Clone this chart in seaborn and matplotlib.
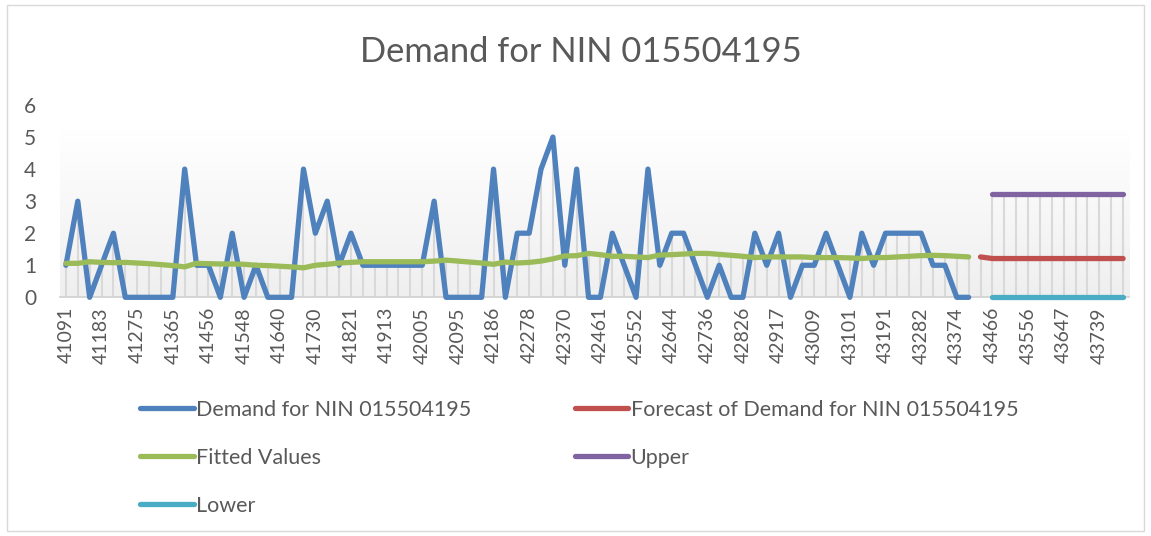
import numpy as np
import pandas as pd
import matplotlib
matplotlib.use("Agg")
import matplotlib.pyplot as plt
import seaborn as sns

# monthly categories, shown as Excel serial dates (Jul 2012 .. Dec 2019)
months = pd.date_range("2012-07-01", "2019-12-01", freq="MS")
serials = [str((m - pd.Timestamp("1899-12-30")).days) for m in months]

demand = [1, 3, 0, 1, 2, 0, 0, 0, 0, 0, 4, 1, 1, 0, 2, 0,
          1, 0, 0, 0, 4, 2, 3, 1, 2, 1, 1, 1, 1, 1, 1, 3,
          0, 0, 0, 0, 4, 0, 2, 2, 4, 5, 1, 4, 0, 0, 2, 1,
          0, 4, 1, 2, 2, 1, 0, 1, 0, 0, 2, 1, 2, 0, 1, 1,
          2, 1, 0, 2, 1, 2, 2, 2, 2, 1, 1, 0, 0]
fitted = [1.06, 1.06, 1.11, 1.09, 1.08, 1.09, 1.07, 1.05, 1.02, 0.99, 0.95, 1.06,
          1.05, 1.04, 1.04, 1.03, 1.00, 0.99, 0.97, 0.95, 0.92, 1.00, 1.03, 1.07,
          1.09, 1.11, 1.11, 1.11, 1.11, 1.11, 1.11, 1.13, 1.16, 1.13, 1.10, 1.07,
          1.03, 1.10, 1.07, 1.09, 1.13, 1.20, 1.29, 1.30, 1.37, 1.33, 1.28, 1.28,
          1.26, 1.24, 1.32, 1.33, 1.35, 1.37, 1.37, 1.34, 1.31, 1.28, 1.24, 1.26,
          1.26, 1.26, 1.26, 1.24, 1.24, 1.24, 1.23, 1.21, 1.24, 1.24, 1.26, 1.28,
          1.30, 1.31, 1.30, 1.28, 1.26]
forecast = [1.26] + [1.21] * 12
upper = [3.23] * 12
lower = [0.0] * 12

names = ["Demand for NIN 015504195", "Forecast of Demand for NIN 015504195",
         "Fitted Values", "Upper", "Lower"]
colors = ["#4F81BD", "#C0504D", "#9BBB59", "#8064A2", "#4BACC6"]

n_demand = len(demand)
frames = [
    pd.DataFrame({"x": range(0, n_demand), "value": demand, "series": names[0]}),
    pd.DataFrame({"x": range(n_demand, n_demand + len(forecast)), "value": forecast, "series": names[1]}),
    pd.DataFrame({"x": range(0, len(fitted)), "value": fitted, "series": names[2]}),
    pd.DataFrame({"x": range(n_demand + 1, n_demand + 1 + len(upper)), "value": upper, "series": names[3]}),
    pd.DataFrame({"x": range(n_demand + 1, n_demand + 1 + len(lower)), "value": lower, "series": names[4]}),
]
df = pd.concat(frames, ignore_index=True)

sns.set_style("white")
plt.rcParams["font.family"] = ["Lato", "DejaVu Sans"]
txt = "#595959"

fig = plt.figure(figsize=(11.51, 5.36), dpi=100)
ax = fig.add_axes([0.0521, 0.4453, 0.9288, 0.3588])

# plot area gradient fill
grad = np.linspace(0, 1, 256).reshape(-1, 1)
ax.imshow(grad, cmap=matplotlib.colors.LinearSegmentedColormap.from_list("g", ["#EFEFEF", "#FFFFFF"]),
          extent=[-0.5, len(serials) - 0.5, 0, 5.2], origin="lower", aspect="auto", zorder=0)

# drop lines up to the highest series at each category
tops = df.groupby("x")["value"].max()
ax.vlines(tops.index, 0, tops.values, color="#D9D9D9", lw=1.5, zorder=1)

sns.lineplot(data=df, x="x", y="value", hue="series", hue_order=names, palette=colors,
             lw=3.8, ax=ax, sort=False, zorder=3, solid_capstyle="round",
             solid_joinstyle="round", clip_on=False)

ax.set_xlim(-0.5, len(serials) - 0.5)
ax.set_ylim(0, 6)
ax.set_yticks(range(0, 7))
ax.set_xticks(range(0, len(serials), 3))
ax.set_xticklabels(serials[::3], rotation=90)
ax.set_xticks(np.arange(-0.5, len(serials), 1), minor=True)
ax.tick_params(axis="x", which="major", length=0, pad=7, labelsize=14, labelcolor=txt)
ax.tick_params(axis="x", which="minor", length=4.5, width=1, color="#D0D0D0")
ax.tick_params(axis="y", length=0, pad=17, labelsize=15, labelcolor=txt)
ax.set_xlabel("")
ax.set_ylabel("")
for s in ["top", "right", "left"]:
    ax.spines[s].set_visible(False)
ax.spines["bottom"].set_color("#D0D0D0")
ax.spines["bottom"].set_linewidth(1.2)
ax.spines["bottom"].set_zorder(2)

handles, labels = ax.get_legend_handles_labels()
ax.get_legend().remove()
order = [0, 2, 4, 1, 3]
for h in handles:
    h.set_linewidth(3.8)
fig.legend([handles[i] for i in order], [labels[i] for i in order], ncol=2,
           loc="upper left", bbox_to_anchor=(140 / 1151, 1 - 400 / 536), frameon=False,
           fontsize=15.5, handlelength=2.5, handletextpad=0.1, columnspacing=4.8,
           labelspacing=1.3, borderpad=0, borderaxespad=0, labelcolor=txt)

fig.text(581 / 1151, 1 - 62 / 536, "Demand for NIN 015504195", ha="center", va="baseline",
         fontsize=24.8, color=txt)

fig.patches.append(matplotlib.patches.Rectangle((7 / 1151, 5 / 536), 1137 / 1151, 526 / 536,
                                                transform=fig.transFigure, fill=False,
                                                edgecolor="#D9D9D9", lw=1))

fig.savefig("out.png", dpi=100)
